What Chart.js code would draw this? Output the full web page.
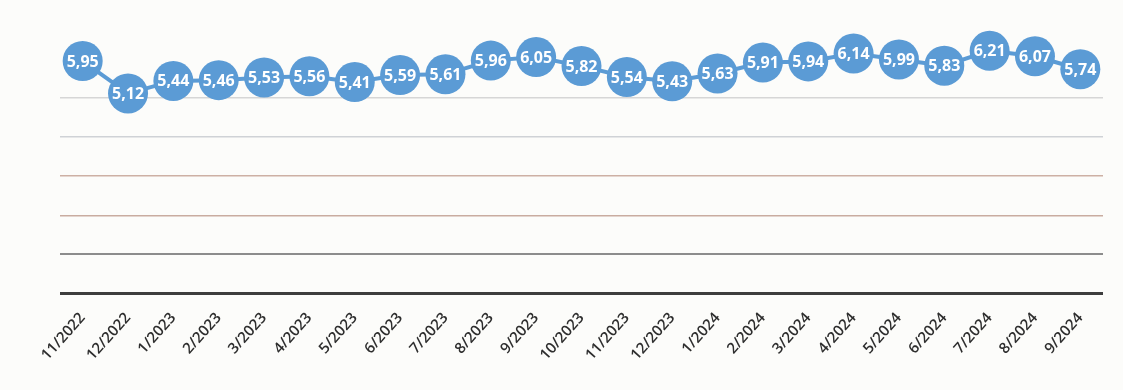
<!DOCTYPE html>
<html>
<head>
<meta charset="utf-8">
<script src="https://cdn.jsdelivr.net/npm/chart.js@4"></script>
<style>
    html, body { margin: 0; padding: 0; background: #fcfcfa; }
    #wrap { width: 1123px; height: 390px; }
</style>
</head>
<body>
<div id="wrap"><canvas id="lineChart" width="1123" height="390"></canvas></div>
<script>
const months = ['11/2022', '12/2022', '1/2023', '2/2023', '3/2023', '4/2023', '5/2023', '6/2023',
    '7/2023', '8/2023', '9/2023', '10/2023', '11/2023', '12/2023', '1/2024', '2/2024', '3/2024',
    '4/2024', '5/2024', '6/2024', '7/2024', '8/2024', '9/2024'];
const values = [5.95, 5.12, 5.44, 5.46, 5.53, 5.56, 5.41, 5.59, 5.61, 5.96, 6.05, 5.82, 5.54,
    5.43, 5.63, 5.91, 5.94, 6.14, 5.99, 5.83, 6.21, 6.07, 5.74];

// grid colours per tick value (scan looks uneven)
const gridColors = {0: '#3d3d3d', 1: '#8c8c8c', 2: '#c9aca0', 3: '#cdb0a4', 4: '#cfd2d6', 5: '#d6d6d6'};
const gridWidths = {0: 3, 1: 2};

const blue = '#5b9bd5';

// white value labels inside the circles
const valueLabels = {
    id: 'valueLabels',
    afterDatasetsDraw(chart) {
        const ctx = chart.ctx;
        const meta = chart.getDatasetMeta(0);
        ctx.save();
        ctx.fillStyle = '#ffffff';
        ctx.font = 'bold 16px "Open Sans"';
        ctx.textAlign = 'center';
        ctx.textBaseline = 'middle';
        meta.data.forEach((pt, i) => {
            ctx.fillText(values[i].toFixed(2).replace('.', ','), pt.x, pt.y + 1);
        });
        ctx.restore();
    }
};

new Chart(document.getElementById('lineChart'), {
    type: 'line',
    data: {
        labels: months,
        datasets: [{
            data: values,
            borderColor: blue,
            borderWidth: 4,
            pointRadius: 20,
            pointHoverRadius: 20,
            pointBackgroundColor: blue,
            pointBorderColor: blue,
            pointBorderWidth: 0,
            tension: 0,
            clip: false
        }]
    },
    options: {
        responsive: false,
        animation: false,
        layout: {padding: {left: 60, right: 18, top: 0, bottom: 10}},
        scales: {
            x: {
                offset: true,
                grid: {display: false, drawTicks: false},
                border: {display: false},
                ticks: {
                    minRotation: 48,
                    maxRotation: 48,
                    padding: 16,
                    color: '#2e2e2e',
                    font: {family: 'Open Sans', size: 15, weight: '600'}
                }
            },
            y: {
                min: 0,
                max: 7,
                ticks: {display: false, stepSize: 1},
                border: {display: false},
                grid: {
                    drawTicks: false,
                    color: c => gridColors[c.tick.value] || 'rgba(0,0,0,0)',
                    lineWidth: c => gridWidths[c.tick.value] || 1.5
                }
            }
        },
        plugins: {
            legend: {display: false},
            tooltip: {enabled: false}
        }
    },
    plugins: [valueLabels]
});
</script>
</body>
</html>
